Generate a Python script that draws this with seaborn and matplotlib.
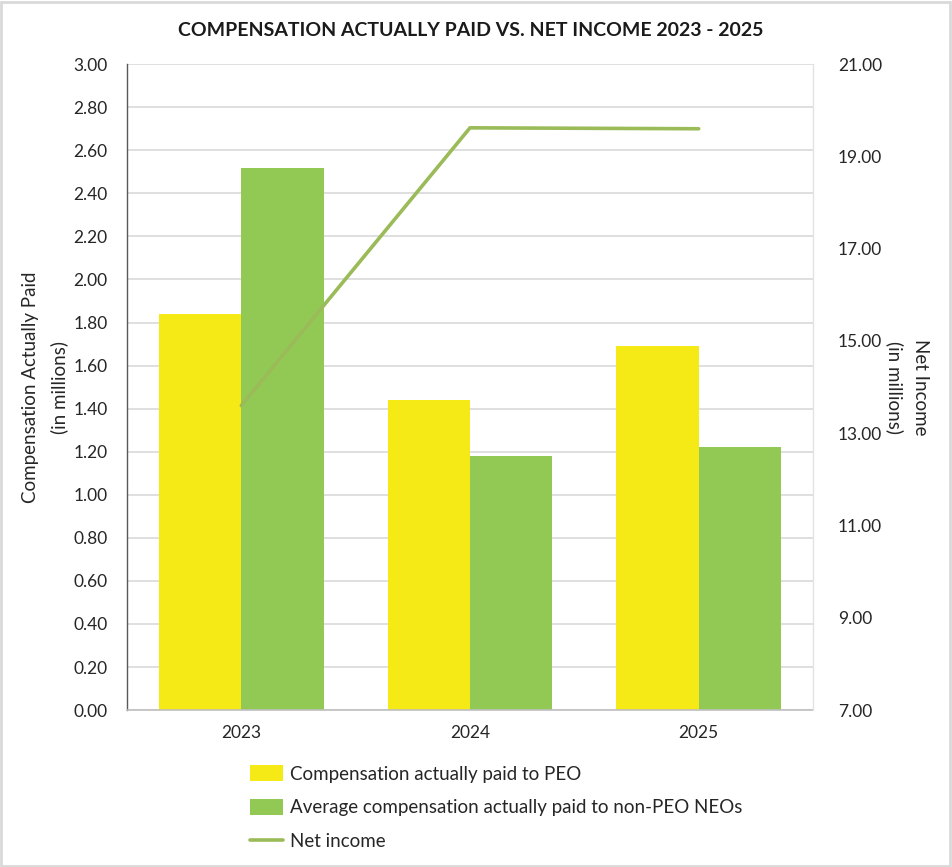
import numpy as np
import pandas as pd
import seaborn as sns
import matplotlib.pyplot as plt
from matplotlib.patches import Patch, Rectangle
from matplotlib.lines import Line2D

# ------------------------------
# Data
# ------------------------------
years = ["2023", "2024", "2025"]
peo_cap = [1.84, 1.44, 1.69]
neo_cap = [2.52, 1.18, 1.22]
net_income = [13.60, 19.62, 19.60]

peo_label = "Compensation actually paid to PEO"
neo_label = "Average compensation actually paid to non-PEO NEOs"
ni_label = "Net income"

left_ticks = np.arange(0, 3.01, 0.2)
right_ticks = np.arange(7, 21.01, 2)

yellow = "#F5E916"
green = "#92C955"
line_green = "#9BBB59"

df = pd.DataFrame({
    "year": years * 2,
    "value": peo_cap + neo_cap,
    "series": [peo_label] * len(years) + [neo_label] * len(years),
})

# ------------------------------
# Style
# ------------------------------
sns.set_theme(style="white")
plt.rcParams["font.family"] = ["Lato", "DejaVu Sans"]

fig = plt.figure(figsize=(9.52, 8.67), dpi=100)
ax = fig.add_axes([0.1334, 0.181, 0.7206, 0.745])

sns.barplot(data=df, x="year", y="value", hue="series",
            palette=[yellow, green], width=0.72, gap=0,
            saturation=1, linewidth=0, ax=ax, legend=False)

ax.set_ylim(0, 3.0)
ax.set_xlim(-0.5, 2.5)
ax.set_yticks(left_ticks)
ax.set_yticklabels([f"{t:.2f}" for t in left_ticks], fontsize=12.5)
ax.set_xticks(range(len(years)))
ax.set_xticklabels(years, fontsize=12.5)
ax.tick_params(axis="x", length=0, pad=11)
ax.tick_params(axis="y", length=0, pad=14)
ax.yaxis.grid(True, color="#D9D9D9", linewidth=1.2)
ax.set_axisbelow(True)
ax.set_xlabel("")
ax.set_ylabel("Compensation Actually Paid\n(in millions)", fontsize=13.5,
              labelpad=4, linespacing=1.7)

for side in ["top", "right"]:
    ax.spines[side].set_visible(False)
ax.spines["left"].set_color("#595959")
ax.spines["left"].set_linewidth(1.0)
ax.spines["bottom"].set_color("#BFBFBF")
ax.spines["bottom"].set_linewidth(1.2)

# ------------------------------
# Net income on the right axis
# ------------------------------
ax2 = ax.twinx()
sns.lineplot(x=np.arange(len(years)), y=net_income, color=line_green,
             linewidth=2.6, ax=ax2, legend=False)
ax2.set_ylim(7, 21)
ax2.set_yticks(right_ticks)
ax2.set_yticklabels([f"{t:.2f}" for t in right_ticks], fontsize=12.5)
ax2.tick_params(axis="y", length=0, pad=18)
ax2.set_ylabel("Net Income\n(in millions)", fontsize=13.5, rotation=270,
               labelpad=34, linespacing=1.6)
ax2.grid(False)
for side in ["top", "left", "bottom"]:
    ax2.spines[side].set_visible(False)
ax2.spines["right"].set_color("#E3E3E3")
ax2.spines["right"].set_linewidth(1.0)

# ------------------------------
# Title, legend, frame
# ------------------------------
fig.text(0.494, 0.965, "COMPENSATION ACTUALLY PAID VS. NET INCOME 2023 - 2025",
         ha="center", va="center", fontsize=14, fontweight="bold",
         color="#1A1A1A")

handles = [
    Patch(facecolor=yellow, edgecolor="none"),
    Patch(facecolor=green, edgecolor="none"),
    Line2D([0], [0], color=line_green, linewidth=2.6),
]
fig.legend(handles, [peo_label, neo_label, ni_label],
           loc="upper left", bbox_to_anchor=(0.255, 0.126),
           frameon=False, fontsize=13.5, handlelength=1.75, handleheight=0.9,
           labelspacing=0.88, handletextpad=0.35, borderaxespad=0)

fig.patches.append(Rectangle((0.001, 0.001), 0.997, 0.997,
                             transform=fig.transFigure, fill=False,
                             edgecolor="#D9D9D9", linewidth=2))

plt.savefig("out.png", dpi=100)
